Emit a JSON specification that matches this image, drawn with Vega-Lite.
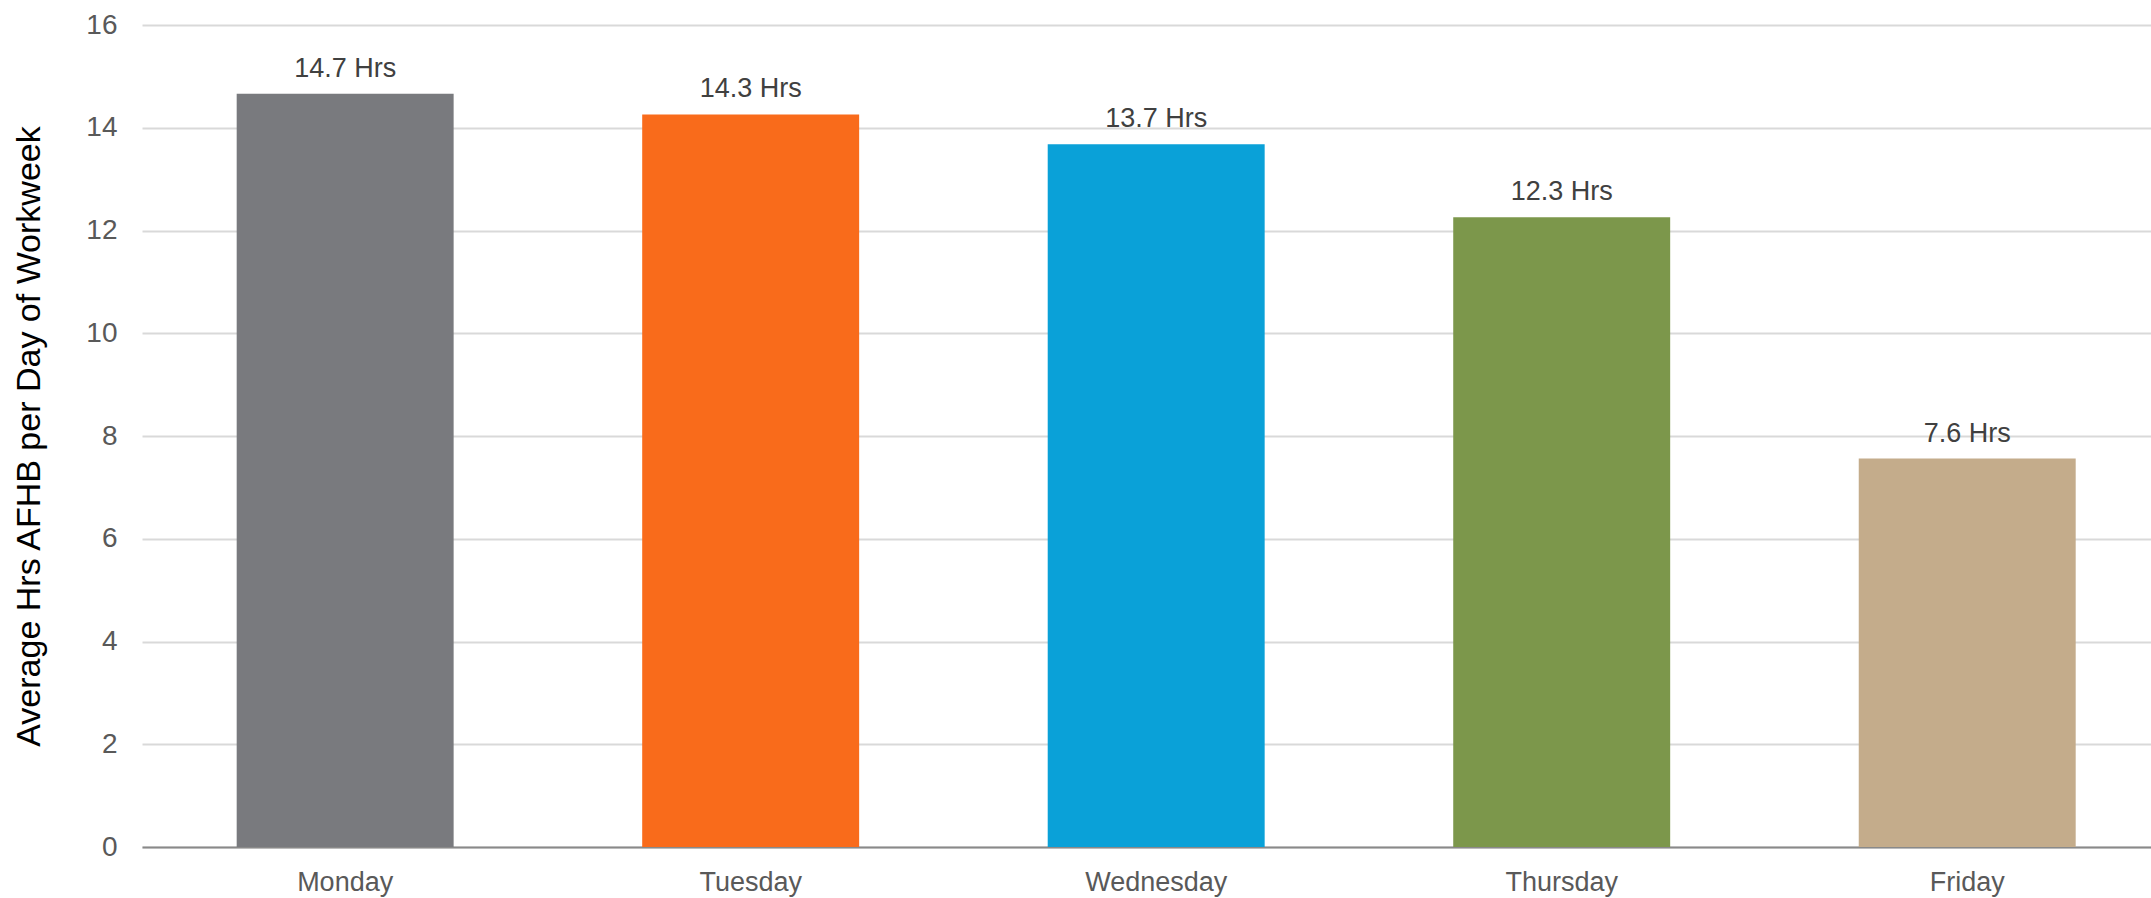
{
  "$schema": "https://vega.github.io/schema/vega-lite/v6.json",
  "width": 2009,
  "height": 822,
  "autosize": {"type": "none"},
  "padding": {"left": 142, "top": 25, "right": 0, "bottom": 51},
  "background": "white",
  "config": {
    "view": {"stroke": null},
    "font": "Liberation Sans"
  },
  "data": {
    "values": [
      {"day": "Monday", "hrs": 14.66, "label": "14.7 Hrs", "color": "#797A7E"},
      {"day": "Tuesday", "hrs": 14.26, "label": "14.3 Hrs", "color": "#F96B1B"},
      {"day": "Wednesday", "hrs": 13.68, "label": "13.7 Hrs", "color": "#0AA1D8"},
      {"day": "Thursday", "hrs": 12.26, "label": "12.3 Hrs", "color": "#7C974B"},
      {"day": "Friday", "hrs": 7.56, "label": "7.6 Hrs", "color": "#C4AC8B"}
    ]
  },
  "encoding": {
    "x": {
      "field": "day",
      "type": "nominal",
      "sort": null,
      "scale": {"paddingInner": 0.465, "paddingOuter": 0.2096, "align": 0.557},
      "axis": {
        "title": null,
        "labelAngle": 0,
        "labelFont": "Liberation Sans",
        "labelFontSize": 27,
        "labelColor": "#595959",
        "ticks": false,
        "labelPadding": 22,
        "domainColor": "#898989",
        "domainWidth": 2,
        "grid": false
      }
    },
    "y": {
      "field": "hrs",
      "type": "quantitative",
      "scale": {"domain": [0, 16], "nice": false},
      "axis": {
        "title": "Average Hrs AFHB per Day of Workweek",
        "titleFont": "Liberation Sans",
        "titleFontSize": 34,
        "titleFontWeight": "normal",
        "titleColor": "#000000",
        "titleAngle": -90,
        "titleAlign": "center",
        "titleBaseline": "middle",
        "titleX": -113,
        "titleY": 411,
        "values": [0, 2, 4, 6, 8, 10, 12, 14, 16],
        "labelFont": "Liberation Sans",
        "labelFontSize": 28,
        "labelColor": "#595959",
        "labelPadding": 25,
        "ticks": false,
        "domain": false,
        "grid": true,
        "gridColor": "#D9D9D9",
        "gridWidth": 2
      }
    }
  },
  "layer": [
    {
      "mark": {"type": "bar"},
      "encoding": {
        "color": {"field": "color", "type": "nominal", "scale": null, "legend": null}
      }
    },
    {
      "mark": {
        "type": "text",
        "baseline": "alphabetic",
        "dy": -17,
        "font": "Liberation Sans",
        "fontSize": 27,
        "color": "#404040"
      },
      "encoding": {
        "text": {"field": "label", "type": "nominal"}
      }
    }
  ]
}
